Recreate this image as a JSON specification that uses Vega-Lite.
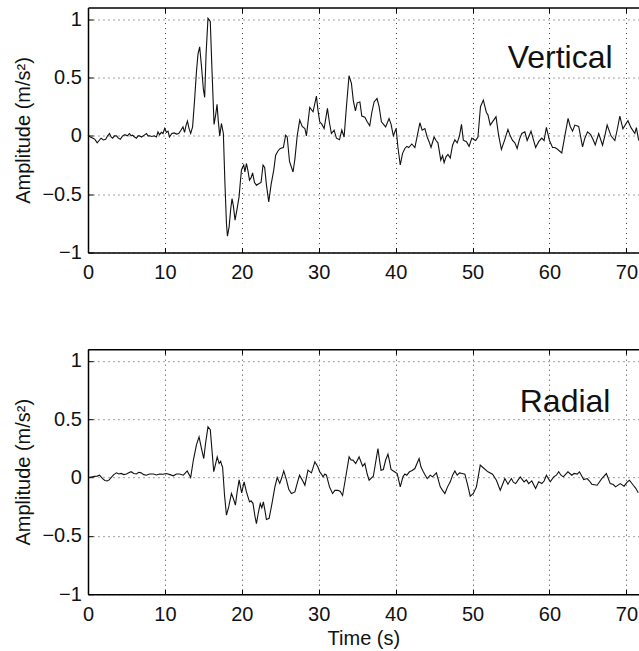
{
"$schema": "https://vega.github.io/schema/vega-lite/v6.json",
"padding": {"left": 13, "top": 6.5, "right": 0, "bottom": 0},
"background": "white",
"config": {
  "view": {"stroke": null},
  "axis": {"domainColor": "#000", "domainWidth": 1.5, "tickColor": "#000", "tickSize": -5, "tickWidth": 1,
    "gridColor": "#000", "gridDash": [1, 4], "gridOpacity": 0.75, "gridWidth": 1,
    "labelFont": "Liberation Sans", "labelFontSize": 20, "labelColor": "#111", "labelFlush": false, "labelOverlap": false,
    "titleFont": "Liberation Sans", "titleFontSize": 20, "titleFontWeight": "normal", "titleColor": "#111"},
  "axisX": {"labelPadding": 15},
  "axisY": {"labelPadding": 11.6, "titlePadding": 8}
},
"datasets": {
  "vert": [
{"t":0,"a":0.006},{"t":0.3,"a":-0.01},{"t":0.65,"a":-0.02},{"t":0.9,"a":-0.03},{"t":1.2,"a":-0.06},{"t":1.45,"a":-0.04},{"t":1.7,"a":-0.02},{"t":2.0,"a":-0.035},{"t":2.3,"a":-0.03},{"t":2.55,"a":0.0},{"t":2.8,"a":0.02},{"t":3.0,"a":-0.01},{"t":3.2,"a":-0.02},{"t":3.45,"a":0.0},{"t":3.7,"a":0.0},{"t":3.95,"a":-0.02},{"t":4.2,"a":-0.03},{"t":4.5,"a":0.0},{"t":4.8,"a":0.01},{"t":5.1,"a":0.0},{"t":5.4,"a":0.02},{"t":5.6,"a":0.0},{"t":5.8,"a":0.005},{"t":6.05,"a":-0.01},{"t":6.3,"a":-0.02},{"t":6.5,"a":0.0},{"t":6.7,"a":0.0},{"t":6.95,"a":-0.01},{"t":7.2,"a":0.0},{"t":7.4,"a":0.01},{"t":7.6,"a":0.02},{"t":7.8,"a":0.0},{"t":8.0,"a":0.0},{"t":8.3,"a":-0.005},{"t":8.6,"a":0.0},{"t":8.9,"a":-0.01},{"t":9.1,"a":0.034},{"t":9.3,"a":0.01},{"t":9.55,"a":0.03},{"t":9.75,"a":0.02},{"t":9.97,"a":0.063},{"t":10.2,"a":0.03},{"t":10.4,"a":0.04},{"t":10.6,"a":-0.01},{"t":10.9,"a":0.02},{"t":11.2,"a":0.025},{"t":11.5,"a":0.015},{"t":11.8,"a":0.02},{"t":12.1,"a":0.05},{"t":12.35,"a":0.077},{"t":12.55,"a":0.03},{"t":12.75,"a":0.09},{"t":12.93,"a":0.126},{"t":13.15,"a":0.06},{"t":13.35,"a":0.02},{"t":13.6,"a":0.077},{"t":13.85,"a":0.3},{"t":14.1,"a":0.55},{"t":14.3,"a":0.7},{"t":14.52,"a":0.763},{"t":14.75,"a":0.6},{"t":15.0,"a":0.4},{"t":15.17,"a":0.33},{"t":15.35,"a":0.7},{"t":15.6,"a":1.007},{"t":15.9,"a":0.98},{"t":16.1,"a":0.6},{"t":16.39,"a":0.098},{"t":16.6,"a":0.18},{"t":16.78,"a":0.27},{"t":16.95,"a":0.12},{"t":17.13,"a":0.0},{"t":17.35,"a":0.106},{"t":17.6,"a":0.02},{"t":17.8,"a":-0.4},{"t":18.0,"a":-0.75},{"t":18.13,"a":-0.86},{"t":18.35,"a":-0.78},{"t":18.55,"a":-0.63},{"t":18.73,"a":-0.537},{"t":18.9,"a":-0.6},{"t":19.12,"a":-0.723},{"t":19.4,"a":-0.62},{"t":19.64,"a":-0.523},{"t":19.8,"a":-0.4},{"t":19.95,"a":-0.294},{"t":20.1,"a":-0.27},{"t":20.25,"a":-0.25},{"t":20.4,"a":-0.31},{"t":20.6,"a":-0.237},{"t":20.8,"a":-0.3},{"t":21.0,"a":-0.38},{"t":21.2,"a":-0.36},{"t":21.4,"a":-0.317},{"t":21.65,"a":-0.4},{"t":21.9,"a":-0.423},{"t":22.2,"a":-0.41},{"t":22.5,"a":-0.4},{"t":22.76,"a":-0.25},{"t":22.97,"a":-0.27},{"t":23.2,"a":-0.42},{"t":23.5,"a":-0.566},{"t":23.8,"a":-0.42},{"t":24.15,"a":-0.294},{"t":24.4,"a":-0.166},{"t":24.7,"a":-0.13},{"t":25.0,"a":-0.108},{"t":25.4,"a":-0.1},{"t":25.7,"a":0.006},{"t":25.9,"a":-0.01},{"t":26.2,"a":-0.22},{"t":26.66,"a":-0.31},{"t":26.9,"a":-0.2},{"t":27.2,"a":0.0},{"t":27.53,"a":0.135},{"t":27.85,"a":0.08},{"t":28.2,"a":0.063},{"t":28.4,"a":0.0},{"t":28.83,"a":0.243},{"t":29.26,"a":0.206},{"t":29.7,"a":0.34},{"t":29.9,"a":0.22},{"t":30.13,"a":0.12},{"t":30.4,"a":0.1},{"t":30.7,"a":0.063},{"t":31.13,"a":0.235},{"t":31.4,"a":0.11},{"t":31.65,"a":0.02},{"t":32.0,"a":0.049},{"t":32.3,"a":-0.02},{"t":32.7,"a":-0.034},{"t":33.0,"a":0.049},{"t":33.3,"a":-0.01},{"t":33.6,"a":0.25},{"t":33.94,"a":0.515},{"t":34.25,"a":0.45},{"t":34.5,"a":0.3},{"t":34.77,"a":0.214},{"t":35.0,"a":0.283},{"t":35.35,"a":0.29},{"t":35.6,"a":0.169},{"t":36.0,"a":0.16},{"t":36.3,"a":0.12},{"t":36.63,"a":0.086},{"t":36.9,"a":0.2},{"t":37.2,"a":0.29},{"t":37.58,"a":0.32},{"t":37.85,"a":0.25},{"t":38.15,"a":0.12},{"t":38.4,"a":0.1},{"t":38.7,"a":0.077},{"t":39.14,"a":0.149},{"t":39.4,"a":0.1},{"t":39.7,"a":0.0},{"t":40.06,"a":0.063},{"t":40.3,"a":-0.1},{"t":40.6,"a":-0.25},{"t":40.9,"a":-0.15},{"t":41.2,"a":-0.108},{"t":41.45,"a":-0.09},{"t":41.7,"a":-0.1},{"t":42.1,"a":-0.07},{"t":42.5,"a":-0.1},{"t":42.83,"a":0.006},{"t":43.15,"a":0.112},{"t":43.45,"a":0.049},{"t":43.8,"a":0.063},{"t":44.1,"a":-0.01},{"t":44.35,"a":-0.05},{"t":44.6,"a":-0.1},{"t":45.0,"a":-0.01},{"t":45.25,"a":-0.04},{"t":45.5,"a":-0.06},{"t":45.87,"a":-0.208},{"t":46.1,"a":-0.17},{"t":46.3,"a":-0.23},{"t":46.55,"a":-0.18},{"t":46.8,"a":-0.16},{"t":47.1,"a":-0.19},{"t":47.4,"a":-0.08},{"t":47.7,"a":-0.034},{"t":48.0,"a":-0.06},{"t":48.3,"a":0.0},{"t":48.56,"a":0.098},{"t":48.8,"a":-0.037},{"t":49.2,"a":-0.05},{"t":49.55,"a":-0.09},{"t":49.9,"a":-0.02},{"t":50.1,"a":-0.03},{"t":50.4,"a":-0.04},{"t":50.7,"a":-0.01},{"t":51.03,"a":0.25},{"t":51.4,"a":0.306},{"t":51.8,"a":0.2},{"t":52.0,"a":0.18},{"t":52.3,"a":0.092},{"t":52.7,"a":0.13},{"t":53.05,"a":0.163},{"t":53.4,"a":0.0},{"t":53.75,"a":-0.117},{"t":54.2,"a":-0.03},{"t":54.6,"a":0.055},{"t":54.9,"a":0.0},{"t":55.2,"a":-0.04},{"t":55.5,"a":-0.06},{"t":55.8,"a":-0.108},{"t":56.1,"a":-0.03},{"t":56.4,"a":0.02},{"t":56.8,"a":0.034},{"t":57.1,"a":-0.04},{"t":57.6,"a":0.04},{"t":57.9,"a":-0.03},{"t":58.2,"a":-0.1},{"t":58.6,"a":-0.05},{"t":59.0,"a":-0.02},{"t":59.3,"a":-0.04},{"t":59.6,"a":0.072},{"t":60.0,"a":-0.04},{"t":60.4,"a":-0.1},{"t":60.7,"a":-0.1},{"t":60.95,"a":-0.11},{"t":61.3,"a":-0.13},{"t":61.6,"a":-0.146},{"t":62.0,"a":0.0},{"t":62.42,"a":0.149},{"t":62.7,"a":0.08},{"t":63.0,"a":0.04},{"t":63.3,"a":0.092},{"t":63.8,"a":0.08},{"t":64.3,"a":-0.094},{"t":64.6,"a":-0.02},{"t":64.95,"a":0.034},{"t":65.35,"a":0.01},{"t":65.65,"a":-0.03},{"t":65.95,"a":-0.077},{"t":66.4,"a":0.02},{"t":66.9,"a":-0.08},{"t":67.2,"a":0.0},{"t":67.5,"a":0.092},{"t":68.0,"a":0.0},{"t":68.5,"a":-0.04},{"t":68.8,"a":0.05},{"t":69.15,"a":0.169},{"t":69.55,"a":0.06},{"t":69.9,"a":0.1},{"t":70.2,"a":0.13},{"t":70.6,"a":0.07},{"t":71.1,"a":0.02},{"t":71.3,"a":0.07},{"t":71.6,"a":-0.04}
  ],
  "rad": [
{"t":0,"a":0.0},{"t":0.4,"a":0.005},{"t":0.85,"a":0.01},{"t":1.2,"a":0.012},{"t":1.5,"a":0.02},{"t":1.9,"a":-0.01},{"t":2.2,"a":-0.025},{"t":2.5,"a":-0.03},{"t":2.75,"a":-0.02},{"t":3.0,"a":0.0},{"t":3.35,"a":0.025},{"t":3.7,"a":0.04},{"t":4.0,"a":0.03},{"t":4.3,"a":0.035},{"t":4.65,"a":0.025},{"t":5.0,"a":0.03},{"t":5.3,"a":0.04},{"t":5.6,"a":0.05},{"t":5.95,"a":0.035},{"t":6.3,"a":0.03},{"t":6.6,"a":0.045},{"t":6.9,"a":0.04},{"t":7.25,"a":0.025},{"t":7.6,"a":0.02},{"t":8.0,"a":0.03},{"t":8.5,"a":0.03},{"t":8.9,"a":0.022},{"t":9.3,"a":0.03},{"t":9.75,"a":0.028},{"t":10.2,"a":0.035},{"t":10.65,"a":0.025},{"t":11.1,"a":0.015},{"t":11.5,"a":0.03},{"t":11.9,"a":0.03},{"t":12.4,"a":0.02},{"t":12.9,"a":0.057},{"t":13.35,"a":0.0},{"t":13.7,"a":0.15},{"t":14.1,"a":0.28},{"t":14.44,"a":0.348},{"t":14.75,"a":0.25},{"t":15.05,"a":0.163},{"t":15.3,"a":0.3},{"t":15.6,"a":0.434},{"t":15.9,"a":0.41},{"t":16.1,"a":0.25},{"t":16.35,"a":0.05},{"t":16.6,"a":0.12},{"t":16.8,"a":0.177},{"t":17.05,"a":0.12},{"t":17.25,"a":0.14},{"t":17.4,"a":0.105},{"t":17.5,"a":0.09},{"t":17.75,"a":-0.15},{"t":18.0,"a":-0.323},{"t":18.3,"a":-0.25},{"t":18.65,"a":-0.137},{"t":18.9,"a":-0.18},{"t":19.17,"a":-0.237},{"t":19.4,"a":-0.12},{"t":19.65,"a":-0.02},{"t":19.98,"a":-0.131},{"t":20.3,"a":-0.037},{"t":20.6,"a":-0.123},{"t":21.0,"a":-0.209},{"t":21.2,"a":-0.2},{"t":21.46,"a":-0.223},{"t":21.7,"a":-0.33},{"t":21.9,"a":-0.395},{"t":22.15,"a":-0.3},{"t":22.4,"a":-0.223},{"t":22.6,"a":-0.26},{"t":22.8,"a":-0.209},{"t":23.0,"a":-0.28},{"t":23.2,"a":-0.36},{"t":23.55,"a":-0.35},{"t":23.9,"a":-0.23},{"t":24.3,"a":-0.08},{"t":24.6,"a":0.0},{"t":24.93,"a":-0.05},{"t":25.2,"a":0.0},{"t":25.45,"a":0.057},{"t":25.8,"a":-0.02},{"t":26.1,"a":-0.1},{"t":26.45,"a":-0.137},{"t":26.9,"a":-0.123},{"t":27.2,"a":-0.05},{"t":27.5,"a":0.02},{"t":27.85,"a":-0.02},{"t":28.2,"a":-0.066},{"t":28.6,"a":0.063},{"t":29.05,"a":0.04},{"t":29.5,"a":0.134},{"t":29.9,"a":0.09},{"t":30.13,"a":0.048},{"t":30.35,"a":0.03},{"t":30.56,"a":0.006},{"t":30.8,"a":0.03},{"t":31.0,"a":0.02},{"t":31.4,"a":-0.08},{"t":31.8,"a":-0.137},{"t":32.1,"a":-0.11},{"t":32.5,"a":-0.109},{"t":32.8,"a":-0.12},{"t":33.1,"a":-0.154},{"t":33.5,"a":0.0},{"t":33.95,"a":0.177},{"t":34.2,"a":0.15},{"t":34.45,"a":0.149},{"t":34.8,"a":0.12},{"t":35.25,"a":0.177},{"t":35.7,"a":0.097},{"t":36.0,"a":0.12},{"t":36.3,"a":0.03},{"t":36.55,"a":-0.023},{"t":37.1,"a":0.011},{"t":37.4,"a":0.13},{"t":37.7,"a":0.249},{"t":37.9,"a":0.15},{"t":38.1,"a":0.063},{"t":38.4,"a":0.069},{"t":38.7,"a":0.15},{"t":39.0,"a":0.2},{"t":39.2,"a":0.14},{"t":39.4,"a":0.069},{"t":39.85,"a":0.049},{"t":40.2,"a":0.034},{"t":40.6,"a":-0.08},{"t":40.95,"a":0.006},{"t":41.2,"a":0.03},{"t":41.45,"a":0.02},{"t":41.8,"a":0.049},{"t":42.15,"a":0.06},{"t":42.5,"a":0.077},{"t":43.05,"a":0.163},{"t":43.3,"a":0.09},{"t":43.6,"a":0.049},{"t":43.85,"a":0.02},{"t":44.1,"a":-0.009},{"t":44.5,"a":0.02},{"t":44.8,"a":0.006},{"t":45.3,"a":0.04},{"t":45.8,"a":-0.08},{"t":46.1,"a":-0.11},{"t":46.4,"a":-0.137},{"t":46.75,"a":-0.08},{"t":47.1,"a":-0.037},{"t":47.4,"a":0.02},{"t":47.7,"a":0.057},{"t":48.0,"a":0.02},{"t":48.3,"a":0.04},{"t":48.65,"a":0.035},{"t":49.0,"a":0.029},{"t":49.35,"a":-0.06},{"t":49.7,"a":-0.16},{"t":50.1,"a":-0.137},{"t":50.5,"a":-0.08},{"t":51.0,"a":0.106},{"t":51.35,"a":0.086},{"t":52.0,"a":0.049},{"t":52.6,"a":0.029},{"t":53.1,"a":-0.023},{"t":53.6,"a":-0.109},{"t":53.9,"a":-0.06},{"t":54.2,"a":-0.009},{"t":54.6,"a":-0.057},{"t":55.05,"a":-0.009},{"t":55.3,"a":-0.04},{"t":55.6,"a":-0.052},{"t":56.2,"a":0.006},{"t":56.7,"a":-0.037},{"t":57.0,"a":-0.02},{"t":57.3,"a":-0.052},{"t":57.7,"a":-0.029},{"t":58.2,"a":-0.094},{"t":58.6,"a":-0.037},{"t":59.0,"a":-0.052},{"t":59.3,"a":-0.03},{"t":59.6,"a":0.02},{"t":60.1,"a":-0.037},{"t":60.55,"a":0.006},{"t":60.9,"a":0.02},{"t":61.2,"a":0.049},{"t":61.5,"a":0.02},{"t":61.8,"a":0.006},{"t":62.4,"a":0.049},{"t":62.9,"a":0.02},{"t":63.2,"a":0.035},{"t":63.6,"a":0.029},{"t":63.9,"a":0.049},{"t":64.45,"a":-0.017},{"t":64.9,"a":-0.009},{"t":65.2,"a":-0.03},{"t":65.5,"a":-0.057},{"t":66.2,"a":-0.066},{"t":66.8,"a":-0.009},{"t":67.4,"a":0.034},{"t":67.9,"a":-0.052},{"t":68.3,"a":-0.06},{"t":68.6,"a":-0.08},{"t":69.2,"a":-0.052},{"t":69.7,"a":-0.074},{"t":70.1,"a":-0.04},{"t":70.4,"a":-0.023},{"t":70.9,"a":-0.066},{"t":71.2,"a":-0.09},{"t":71.55,"a":-0.131}
  ],
  "lab1": [{"t": 68.2, "a": 0.58, "label": "Vertical"}],
  "lab2": [{"t": 67.93, "a": 0.563, "label": "Radial"}]
},
"bounds": "flush",
"spacing": 96.7,
"vconcat": [
  {
    "width": 550.7, "height": 245,
    "layer": [
      {"data": {"name": "vert"},
       "mark": {"type": "line", "color": "#111", "strokeWidth": 1.1},
       "encoding": {
         "x": {"field": "t", "type": "quantitative", "scale": {"domain": [0, 71.6], "nice": false, "zero": false},
               "axis": {"values": [0, 10, 20, 30, 40, 50, 60, 70], "title": null, "grid": true}},
         "y": {"field": "a", "type": "quantitative", "scale": {"domain": [-1, 1.1], "nice": false},
               "axis": {"values": [-1, -0.5, 0, 0.5, 1], "format": "~g", "title": "Amplitude (m/s²)", "grid": true}}
       }},
      {"data": {"name": "lab1"},
       "mark": {"type": "text", "align": "right", "baseline": "alphabetic", "fontSize": 32, "font": "Liberation Sans", "color": "#111"},
       "encoding": {
         "x": {"field": "t", "type": "quantitative",
               "axis": {"orient": "top", "labels": false, "grid": false, "title": null, "values": [0, 10, 20, 30, 40, 50, 60, 70]}},
         "y": {"field": "a", "type": "quantitative"},
         "text": {"field": "label"}
       }}
    ],
    "resolve": {"axis": {"x": "independent"}}
  },
  {
    "width": 550.7, "height": 245,
    "layer": [
      {"data": {"name": "rad"},
       "mark": {"type": "line", "color": "#111", "strokeWidth": 1.1},
       "encoding": {
         "x": {"field": "t", "type": "quantitative", "scale": {"domain": [0, 71.6], "nice": false, "zero": false},
               "axis": {"values": [0, 10, 20, 30, 40, 50, 60, 70], "title": "Time (s)", "grid": true}},
         "y": {"field": "a", "type": "quantitative", "scale": {"domain": [-1, 1.1], "nice": false},
               "axis": {"values": [-1, -0.5, 0, 0.5, 1], "format": "~g", "title": "Amplitude (m/s²)", "grid": true}}
       }},
      {"data": {"name": "lab2"},
       "mark": {"type": "text", "align": "right", "baseline": "alphabetic", "fontSize": 32, "font": "Liberation Sans", "color": "#111"},
       "encoding": {
         "x": {"field": "t", "type": "quantitative",
               "axis": {"orient": "top", "labels": false, "grid": false, "title": null, "values": [0, 10, 20, 30, 40, 50, 60, 70]}},
         "y": {"field": "a", "type": "quantitative"},
         "text": {"field": "label"}
       }}
    ],
    "resolve": {"axis": {"x": "independent"}}
  }
]
}
